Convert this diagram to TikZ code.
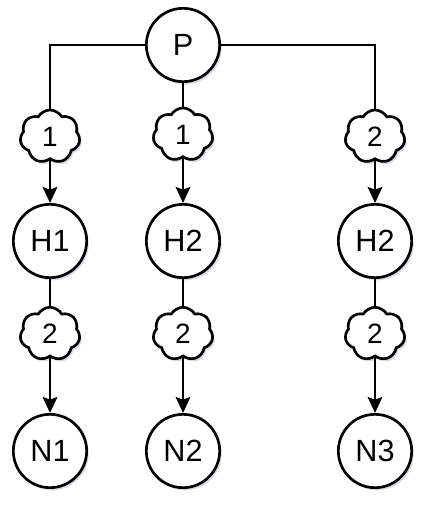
\documentclass[tikz,border=0pt]{standalone}
\usepackage{fontspec}
\setmainfont{Liberation Sans}
\usetikzlibrary{arrows.meta,shapes.symbols,shadows}
\tikzset{
  state/.style={circle, draw, line width=2pt, fill=white, minimum size=55pt,
    inner sep=0pt, font=\fontsize{23}{23}\selectfont,
    drop shadow={shadow xshift=1.5pt, shadow yshift=-2pt, fill=blue!20!black, opacity=0.15}},
  tag/.style={cloud, cloud puffs=7, cloud puff arc=120, aspect=1.15, draw, line width=2pt,
    fill=white, minimum width=45pt, minimum height=40pt, inner sep=0pt,
    font=\fontsize{21}{21}\selectfont,
    drop shadow={shadow xshift=1.5pt, shadow yshift=-2pt, fill=blue!20!black, opacity=0.15}},
  edge/.style={line width=2pt, -{Stealth[length=12pt, width=11pt, inset=2pt]}}
}
\begin{document}
\begin{tikzpicture}[x=0.75pt, y=-0.75pt]
  \path[use as bounding box] (0,0) rectangle (431,507);

  \node[state] (P) at (183,45) {P};

  \node[state] (H1) at (50,241) {H1};
  \node[state] (H2) at (183,241) {H2};
  \node[state] (H3) at (375,241) {H2};

  \node[state] (N1) at (50,451) {N1};
  \node[state] (N2) at (183,451) {N2};
  \node[state] (N3) at (375,451) {N3};

  \draw[edge] (P) -| node[tag, pos=0.79] (c1) {1} (H1);
  \draw[edge] (P) -- node[tag, pos=0.43] (c2) {1} (H2);
  \draw[edge] (P) -| node[tag, pos=0.79] (c3) {2} (H3);

  \draw[edge] (H1) -- node[tag, pos=0.41] (d1) {2} (N1);
  \draw[edge] (H2) -- node[tag, pos=0.41] (d2) {2} (N2);
  \draw[edge] (H3) -- node[tag, pos=0.41] (d3) {2} (N3);
\end{tikzpicture}
\end{document}
